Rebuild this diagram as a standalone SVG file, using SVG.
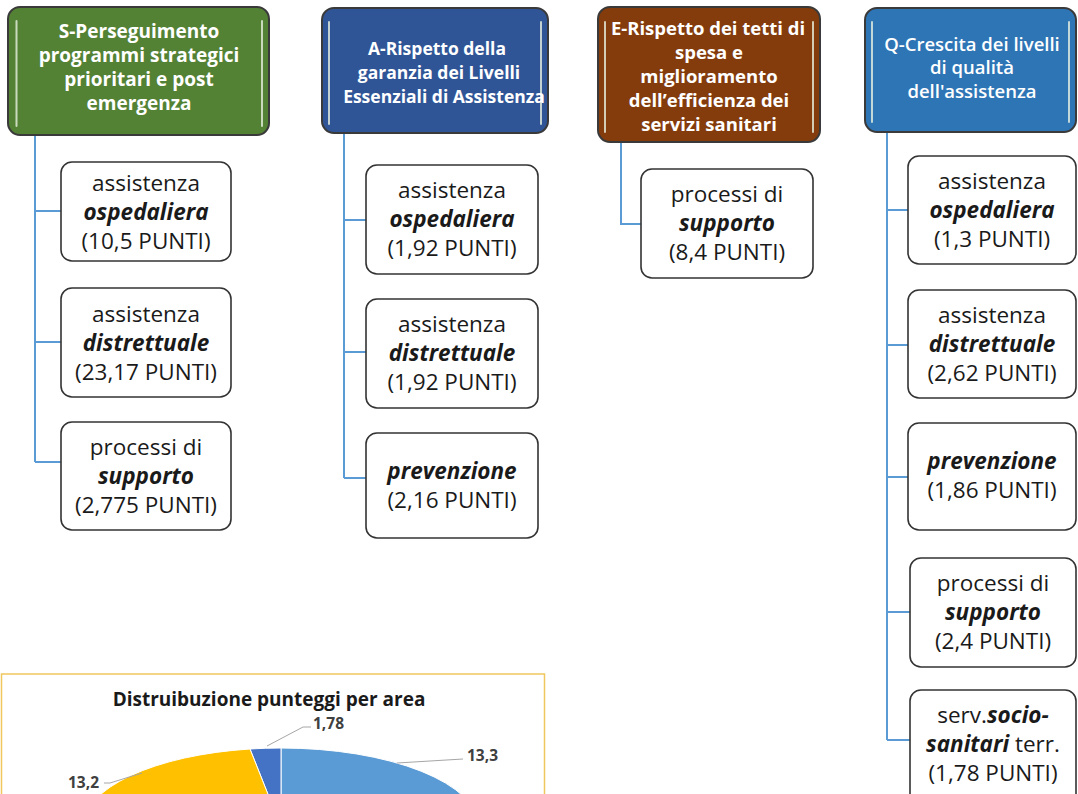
<svg xmlns="http://www.w3.org/2000/svg" width="1078" height="794" viewBox="0 0 1078 794">
<style>
.hdr{stroke:#3a3a3a;stroke-width:2}
.hl{stroke:#e8f0e0;stroke-width:2;opacity:0.8;stroke-linecap:round}
.ht{font-family:"Open Sans","Liberation Sans",sans-serif;font-weight:bold;fill:#ffffff;text-anchor:middle}
.box{fill:#ffffff;stroke:#333333;stroke-width:1.6}
.bt{font-family:"Open Sans","Liberation Sans",sans-serif;font-size:22.5px;fill:#1a1a1a;text-anchor:middle}
.bi{font-weight:bold;font-style:italic}
.con{stroke:#5b9bd5;stroke-width:2;fill:none}
.lead{stroke:#a6a6a6;stroke-width:1;fill:none}
.pl{font-family:"Open Sans","Liberation Sans",sans-serif;font-weight:bold;font-size:15.5px;fill:#404040}
</style>

<g id="connectors">
  <path class="con" d="M35,135 V462 M35,211 H61 M35,342 H61 M35,462 H61"/>
  <path class="con" d="M344,133 V478 M344,220 H366 M344,352 H366 M344,478 H366"/>
  <path class="con" d="M621,142 V224 H641"/>
  <path class="con" d="M887,132 V740 M887,210 H908 M887,345 H908 M887,477 H908 M887,612 H910 M887,740 H910"/>
</g>

<g id="hdr-S">
  <rect class="hdr" x="8" y="7" width="261" height="128" rx="12" fill="#548235"/>
  <path class="hl" d="M16.5,21 V126 M262,21 V126"/>
  <text class="ht" font-size="19"><tspan x="139" y="38">S-Perseguimento</tspan><tspan x="139" y="62">programmi strategici</tspan><tspan x="139" y="86">prioritari e post</tspan><tspan x="139" y="110">emergenza</tspan></text>
</g>
<g id="hdr-A">
  <rect class="hdr" x="322" y="8" width="226" height="125" rx="12" fill="#2f5597"/>
  <path class="hl" d="M329,22 V124 M541,22 V124"/>
  <text class="ht" font-size="17.5"><tspan x="437" y="55">A-Rispetto della</tspan><tspan x="439" y="79">garanzia dei Livelli</tspan><tspan x="444" y="103">Essenziali di Assistenza</tspan></text>
</g>
<g id="hdr-E">
  <rect class="hdr" x="598" y="7" width="222" height="135" rx="12" fill="#843c0c"/>
  <path class="hl" d="M605,22 V132 M813,22 V132"/>
  <text class="ht" font-size="18.5"><tspan x="708" y="35">E-Rispetto dei tetti di</tspan><tspan x="709" y="59">spesa e</tspan><tspan x="709" y="83">miglioramento</tspan><tspan x="709" y="107">dell’efficienza dei</tspan><tspan x="709" y="131">servizi sanitari</tspan></text>
</g>
<g id="hdr-Q">
  <rect class="hdr" x="865" y="8" width="211" height="124" rx="12" fill="#2e75b6"/>
  <path class="hl" d="M872,22 V122 M1069,22 V122"/>
  <text class="ht" font-size="18.5" style="font-weight:600"><tspan x="972" y="51">Q-Crescita dei livelli</tspan><tspan x="972" y="74">di qualità</tspan><tspan x="972" y="98">dell'assistenza</tspan></text>
</g>

<g id="S1">
  <rect class="box" x="61" y="162" width="170" height="99" rx="11"/>
  <text class="bt"><tspan x="146" y="191">assistenza</tspan><tspan x="146" y="220" class="bi">ospedaliera</tspan><tspan x="146" y="249">(10,5 PUNTI)</tspan></text>
</g>
<g id="S2">
  <rect class="box" x="61" y="288" width="170" height="109" rx="11"/>
  <text class="bt"><tspan x="146" y="322">assistenza</tspan><tspan x="146" y="351" class="bi">distrettuale</tspan><tspan x="146" y="380">(23,17 PUNTI)</tspan></text>
</g>
<g id="S3">
  <rect class="box" x="61" y="422" width="170" height="108" rx="11"/>
  <text class="bt"><tspan x="146" y="455">processi di</tspan><tspan x="146" y="484" class="bi">supporto</tspan><tspan x="146" y="513">(2,775 PUNTI)</tspan></text>
</g>

<g id="A1">
  <rect class="box" x="366" y="165" width="172" height="109" rx="11"/>
  <text class="bt"><tspan x="452" y="198">assistenza</tspan><tspan x="452" y="227" class="bi">ospedaliera</tspan><tspan x="452" y="256">(1,92 PUNTI)</tspan></text>
</g>
<g id="A2">
  <rect class="box" x="366" y="299" width="172" height="109" rx="11"/>
  <text class="bt"><tspan x="452" y="332">assistenza</tspan><tspan x="452" y="361" class="bi">distrettuale</tspan><tspan x="452" y="390">(1,92 PUNTI)</tspan></text>
</g>
<g id="A3">
  <rect class="box" x="366" y="433" width="172" height="105" rx="11"/>
  <text class="bt"><tspan x="452" y="479" class="bi">prevenzione</tspan><tspan x="452" y="508">(2,16 PUNTI)</tspan></text>
</g>

<g id="E1">
  <rect class="box" x="641" y="169" width="172" height="109" rx="11"/>
  <text class="bt"><tspan x="727" y="202">processi di</tspan><tspan x="727" y="231" class="bi">supporto</tspan><tspan x="727" y="260">(8,4 PUNTI)</tspan></text>
</g>

<g id="Q1">
  <rect class="box" x="908" y="156" width="168" height="108" rx="11"/>
  <text class="bt"><tspan x="992" y="189">assistenza</tspan><tspan x="992" y="218" class="bi">ospedaliera</tspan><tspan x="992" y="247">(1,3 PUNTI)</tspan></text>
</g>
<g id="Q2">
  <rect class="box" x="908" y="290" width="168" height="108" rx="11"/>
  <text class="bt"><tspan x="992" y="323">assistenza</tspan><tspan x="992" y="352" class="bi">distrettuale</tspan><tspan x="992" y="381">(2,62 PUNTI)</tspan></text>
</g>
<g id="Q3">
  <rect class="box" x="908" y="423" width="168" height="107" rx="11"/>
  <text class="bt"><tspan x="992" y="469" class="bi">prevenzione</tspan><tspan x="992" y="498">(1,86 PUNTI)</tspan></text>
</g>
<g id="Q4">
  <rect class="box" x="910" y="558" width="166" height="109" rx="11"/>
  <text class="bt"><tspan x="993" y="591">processi di</tspan><tspan x="993" y="620" class="bi">supporto</tspan><tspan x="993" y="649">(2,4 PUNTI)</tspan></text>
</g>
<g id="Q5">
  <rect class="box" x="910" y="690" width="166" height="115" rx="11"/>
  <text class="bt"><tspan x="993" y="723">serv.<tspan class="bi">socio-</tspan></tspan><tspan x="993" y="752"><tspan class="bi">sanitari</tspan> terr.</tspan><tspan x="993" y="781">(1,78 PUNTI)</tspan></text>
</g>

<g id="chart">
  <rect x="1.5" y="674" width="543" height="140" fill="#ffffff" stroke="#f0c75e" stroke-width="1.5"/>
  <text x="269" y="706" text-anchor="middle" font-family="Open Sans, Liberation Sans, sans-serif" font-weight="bold" font-size="19" fill="#1a1a1a">Distruibuzione punteggi per area</text>
  <path d="M281,827 L281,748 A198,79 0 0 1 479,827 Z" fill="#5b9bd5" stroke="#ffffff" stroke-width="1"/>
  <path d="M281,827 L250,749 A198,79 0 0 1 281,748 Z" fill="#4472c4" stroke="#ffffff" stroke-width="1"/>
  <path d="M281,827 L83,827 A198,79 0 0 1 250,749 Z" fill="#ffc000" stroke="#ffffff" stroke-width="1"/>
  <polyline class="lead" points="267,746 303,727 311,727"/>
  <polyline class="lead" points="397,763 463,759"/>
  <polyline class="lead" points="142,773 110,783 104,783"/>
  <text class="pl" x="313" y="729">1,78</text>
  <text class="pl" x="467" y="761">13,3</text>
  <text class="pl" x="68" y="788">13,2</text>
</g>
</svg>
